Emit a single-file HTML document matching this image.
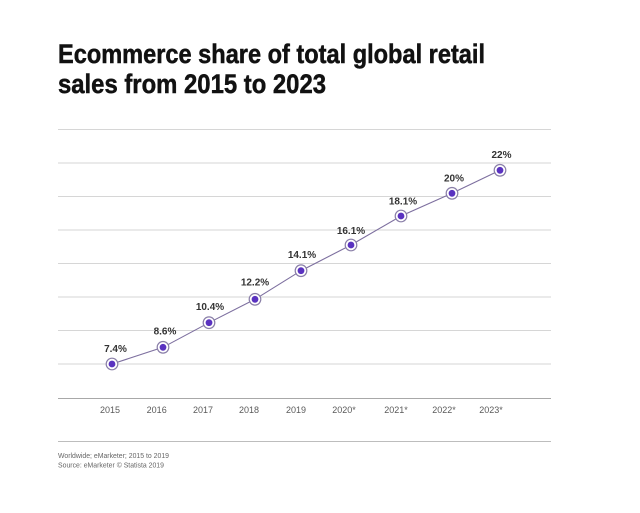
<!DOCTYPE html>
<html><head><meta charset="utf-8"><style>
html,body{margin:0;padding:0;background:#fff;}
svg{display:block;}
</style></head><body>
<svg width="640" height="513" viewBox="0 0 640 513" xmlns="http://www.w3.org/2000/svg">
<rect width="640" height="513" fill="#fff"/>
<g font-family="Liberation Sans, sans-serif" stroke="#111" stroke-width="0.5">
<text x="58" y="63" font-size="27" font-weight="bold" fill="#111" textLength="427" lengthAdjust="spacingAndGlyphs">Ecommerce share of total global retail</text>
<text x="58" y="93" font-size="27" font-weight="bold" fill="#111" textLength="268" lengthAdjust="spacingAndGlyphs">sales from 2015 to 2023</text>
</g>
<g stroke="#d6d6d6" stroke-width="1">
<line x1="58" x2="551" y1="129.5" y2="129.5"/>
<line x1="58" x2="551" y1="163" y2="163"/>
<line x1="58" x2="551" y1="196.5" y2="196.5"/>
<line x1="58" x2="551" y1="230" y2="230"/>
<line x1="58" x2="551" y1="263.5" y2="263.5"/>
<line x1="58" x2="551" y1="297" y2="297"/>
<line x1="58" x2="551" y1="330.5" y2="330.5"/>
<line x1="58" x2="551" y1="364" y2="364"/>
</g>
<line x1="58" x2="551" y1="398.5" y2="398.5" stroke="#a8a8a8" stroke-width="1"/>
<line x1="58" x2="551" y1="441.5" y2="441.5" stroke="#bdbdbd" stroke-width="1"/>
<polyline fill="none" stroke="#7d6f9f" stroke-width="1.1" points="112,364 163,347.3 209,322.7 255,299.3 301,270.7 351,245 401,216 452,193.3 500,170.3"/>
<g fill="#fff" stroke="#8a7fa8" stroke-width="1.2">
<circle cx="112" cy="364" r="5.8"/>
<circle cx="163" cy="347.3" r="5.8"/>
<circle cx="209" cy="322.7" r="5.8"/>
<circle cx="255" cy="299.3" r="5.8"/>
<circle cx="301" cy="270.7" r="5.8"/>
<circle cx="351" cy="245" r="5.8"/>
<circle cx="401" cy="216" r="5.8"/>
<circle cx="452" cy="193.3" r="5.8"/>
<circle cx="500" cy="170.3" r="5.8"/>
</g>
<g fill="#5a32c0">
<circle cx="112" cy="364" r="3.4"/>
<circle cx="163" cy="347.3" r="3.4"/>
<circle cx="209" cy="322.7" r="3.4"/>
<circle cx="255" cy="299.3" r="3.4"/>
<circle cx="301" cy="270.7" r="3.4"/>
<circle cx="351" cy="245" r="3.4"/>
<circle cx="401" cy="216" r="3.4"/>
<circle cx="452" cy="193.3" r="3.4"/>
<circle cx="500" cy="170.3" r="3.4"/>
</g>
<g font-family="Liberation Sans, sans-serif" font-size="10" font-weight="bold" fill="#333" text-anchor="middle">
<text x="115.5" y="352">7.4%</text>
<text x="165" y="334.5">8.6%</text>
<text x="210" y="310">10.4%</text>
<text x="255" y="285.5">12.2%</text>
<text x="302" y="258">14.1%</text>
<text x="351" y="234">16.1%</text>
<text x="403" y="204.5">18.1%</text>
<text x="454" y="181.5">20%</text>
<text x="501.5" y="158">22%</text>
</g>
<g font-family="Liberation Sans, sans-serif" font-size="9" fill="#5a5a5a" text-anchor="middle">
<text x="110" y="413">2015</text>
<text x="156.7" y="413">2016</text>
<text x="203" y="413">2017</text>
<text x="249" y="413">2018</text>
<text x="296" y="413">2019</text>
<text x="344" y="413">2020*</text>
<text x="396" y="413">2021*</text>
<text x="444" y="413">2022*</text>
<text x="491" y="413">2023*</text>
</g>
<g font-family="Liberation Sans, sans-serif" font-size="7" fill="#666">
<text x="58" y="458" textLength="111" lengthAdjust="spacingAndGlyphs">Worldwide; eMarketer; 2015 to 2019</text>
<text x="58" y="467.5" textLength="106" lengthAdjust="spacingAndGlyphs">Source: eMarketer © Statista 2019</text>
</g>
</svg>
</body></html>
